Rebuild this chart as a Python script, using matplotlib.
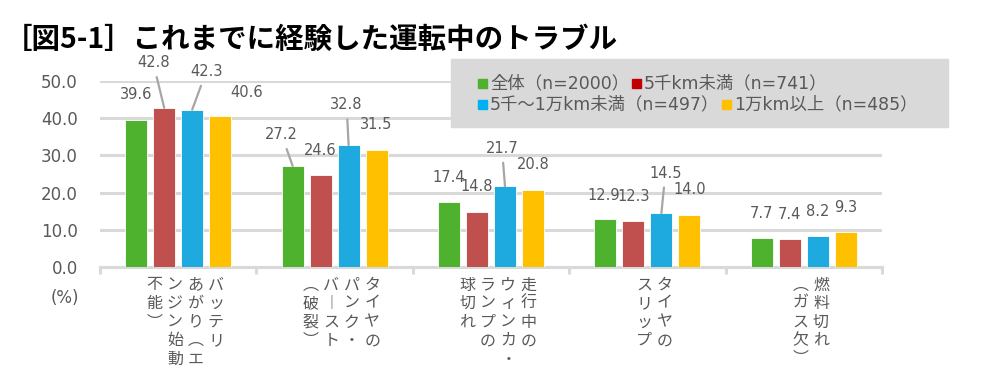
import matplotlib
matplotlib.use('Agg')
import matplotlib.pyplot as plt
from matplotlib.patches import Rectangle
import numpy as np

plt.rcParams['font.family'] = ['DejaVu Sans', 'Noto Sans CJK JP']

# --- data ---------------------------------------------------------------
# category labels, already split into the vertical columns (right to left)
categories = [
    ['バッテリ', 'あがり（エ', 'ンジン始動', '不能）'],
    ['タイヤの', 'パンク・', 'バースト', '（破裂）'],
    ['走行中の', 'ウィンカ・', 'ランプの', '球切れ'],
    ['タイヤの', 'スリップ'],
    ['燃料切れ', '（ガス欠）'],
]
series_names = ['全体（n=2000）', '5千km未満（n=741）',
                '5千～1万km未満（n=497）', '1万km以上（n=485）']
total = [39.6, 27.2, 17.4, 12.9, 7.7]
under_5k = [42.8, 24.6, 14.8, 12.3, 7.4]
from_5k_to_10k = [42.3, 32.8, 21.7, 14.5, 8.2]
over_10k = [40.6, 31.5, 20.8, 14.0, 9.3]
series = [total, under_5k, from_5k_to_10k, over_10k]

bar_colors = ['#4EB22E', '#C0504D', '#1EAADF', '#FFC000']
legend_colors = ['#4EB22E', '#C00000', '#00B0F0', '#FFC000']
GRAY = '#595959'
GRID = '#d9d9d9'

# label placement (pixels: dx, height above bar top); some use leader lines
label_shift = {(0, 1): (-11, 45), (0, 2): (14, 38), (0, 3): (26, 23),
               (1, 0): (-11, 31), (1, 2): (-2, 40), (2, 2): (-3, 38),
               (3, 0): (-2, 24), (3, 2): (4, 40)}
leaders = {(0, 1), (0, 2), (1, 0), (1, 2), (2, 2), (3, 2)}

# vertical presentation forms for the stacked labels
vert = {'（': '︵', '）': '︶', 'ー': '︱'}

W, H = 1000, 392
PT = 0.72  # points per pixel at 100 dpi


def fx(x):
    return x / W


def fy(y):
    return 1 - y / H


fig = plt.figure(figsize=(W / 100, H / 100), dpi=100)
ax = fig.add_axes([fx(100), fy(267), (882 - 100) / W, (267 - 81) / H])

x = np.arange(len(total))
bw = 0.14
step = 0.179
for s, vals in enumerate(series):
    ax.bar(x + (s - 1.5) * step, vals, width=bw, color=bar_colors[s],
           edgecolor='white', linewidth=0.6, zorder=3)
    for i, v in enumerate(vals):
        dx, dy = label_shift.get((i, s), (0, 25))
        arrow = None
        if (i, s) in leaders:
            arrow = dict(arrowstyle='-', color='#a6a6a6', lw=1.6,
                         shrinkA=3, shrinkB=0)
        ax.annotate(f'{v:.1f}', xy=(i + (s - 1.5) * step, v),
                    xytext=(dx * PT, dy * PT), textcoords='offset points',
                    ha='center', va='center', fontsize=10.5, color=GRAY,
                    arrowprops=arrow, annotation_clip=False, zorder=4)

ax.set_xlim(-0.5, len(total) - 0.5)
ax.set_ylim(0, 50)
ax.set_yticks(np.arange(0, 51, 10))
ax.set_yticklabels([f'{t:.1f}' for t in np.arange(0, 51, 10)])
ax.set_xticks(np.arange(-0.5, len(total), 1))
ax.set_xticklabels([])
ax.tick_params(axis='y', length=0, pad=16, labelsize=12, labelcolor=GRAY)
ax.tick_params(axis='x', length=5, width=2.2, color=GRID)
ax.yaxis.grid(True, color=GRID, lw=2.2)
ax.set_axisbelow(True)
for side in ['top', 'left', 'right']:
    ax.spines[side].set_visible(False)
ax.spines['bottom'].set_color(GRID)
ax.spines['bottom'].set_linewidth(2.2)

# vertical category labels: columns run right to left
col_pitch = 20.5
row_pitch = 18.5
for i, cols in enumerate(categories):
    n = len(cols)
    for j, col in enumerate(cols):
        cx = 7 + ((n - 1) / 2 - j) * col_pitch
        for k, ch in enumerate(col):
            cy = 285 + k * row_pitch - 267
            ax.annotate(vert.get(ch, ch), xy=(i, 0),
                        xycoords=('data', 'axes fraction'),
                        xytext=(cx * PT, -cy * PT), textcoords='offset points',
                        ha='center', va='center', fontsize=11.5, color=GRAY,
                        family=['Noto Sans CJK JP'], annotation_clip=False)

fig.text(fx(65), fy(298), '(%)', ha='center', va='center', fontsize=12,
         color=GRAY)

fig.text(fx(4), fy(40), '［図5-1］これまでに経験した運転中のトラブル',
         ha='left', va='center', fontsize=20.5, fontweight='bold',
         color='black', family=['Noto Sans CJK JP'])

# legend box with flowing entries
fig.patches.append(Rectangle((fx(451), fy(127)), (948 - 451) / W, 68 / H,
                             transform=fig.transFigure, color='#d9d9d9',
                             zorder=0))
renderer = fig.canvas.get_renderer()
rows = [[0, 1], [2, 3]]
row_y = [83, 104]
for r, idxs in enumerate(rows):
    xpos = 478
    for s in idxs:
        fig.patches.append(Rectangle((fx(xpos), fy(row_y[r] + 5)), 9 / W,
                                     9 / H, transform=fig.transFigure,
                                     color=legend_colors[s], zorder=2))
        t = fig.text(fx(xpos + 12), fy(row_y[r]), series_names[s],
                     ha='left', va='center', fontsize=12.5, color=GRAY)
        ext = t.get_window_extent(renderer)
        xpos = ext.x1 + 3

fig.savefig('out.png', dpi=100)
